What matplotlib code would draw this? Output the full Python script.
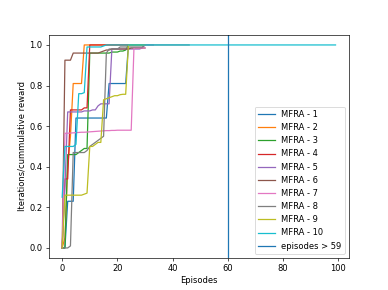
import numpy as np
import matplotlib
matplotlib.use("Agg")
import matplotlib.pyplot as plt

# fraction of iterations / cumulative reward per episode
mfra_1 = [0.0, 0.0, 0.23, 0.23, 0.23, 0.64, 0.64, 0.64, 0.64, 0.64,
          0.64, 0.64, 0.64, 0.64, 0.64, 0.64, 0.64, 0.81, 0.81, 0.81,
          0.81, 0.81, 0.81, 0.81, 1.0, 1.0, 1.0, 1.0, 1.0, 1.0,
          1.0]
mfra_2 = [0.0, 0.05, 0.40, 0.55, 0.81, 0.81, 0.81, 0.81, 1.0, 1.0,
          1.0, 1.0, 1.0, 1.0, 1.0, 1.0, 1.0, 1.0, 1.0, 1.0,
          1.0, 1.0, 1.0, 1.0, 1.0]
mfra_3 = [0.0, 0.0, 0.46, 0.46, 0.46, 0.46, 0.47, 0.48, 0.49, 0.49,
          0.96, 0.96, 0.96, 0.96, 0.96, 0.96, 0.96, 0.96, 0.965, 0.965,
          0.965, 0.97, 0.97, 0.975, 1.0, 1.0, 1.0, 1.0, 1.0, 1.0,
          1.0]
mfra_4 = [0.0, 0.34, 0.34, 0.68, 0.68, 0.68, 0.68, 0.68, 0.69, 0.69,
          1.0, 1.0, 1.0, 1.0, 1.0, 1.0, 1.0, 1.0, 1.0, 1.0,
          1.0, 1.0, 1.0, 1.0, 1.0]
mfra_5 = [0.0, 0.3, 0.67, 0.67, 0.67, 0.67, 0.67, 0.67, 0.675, 0.675,
          0.675, 0.68, 0.68, 0.70, 0.71, 0.71, 0.71, 0.71, 0.98, 0.98,
          0.98, 0.98, 0.98, 0.98, 0.98, 0.98, 0.98, 0.98, 0.98, 0.985,
          1.0, 1.0, 1.0, 1.0]
mfra_6 = [0.0, 0.925, 0.925, 0.925, 0.96, 0.96, 0.96, 0.96, 0.96, 0.96,
          0.96, 0.96, 0.96, 0.96, 0.965, 0.97, 0.975, 0.975, 0.98, 0.98,
          0.98, 0.98, 0.98, 0.98, 0.98, 0.985, 0.985, 0.985, 0.985, 0.985,
          0.985]
mfra_7 = [0.0, 0.565, 0.565, 0.566, 0.567, 0.568, 0.569, 0.57, 0.57, 0.571,
          0.572, 0.573, 0.574, 0.575, 0.576, 0.577, 0.578, 0.578, 0.579, 0.579,
          0.58, 0.58, 0.58, 0.58, 0.58, 0.58, 0.985, 0.985, 0.985, 0.985,
          0.985]
mfra_8 = [0.0, 0.0, 0.0, 0.01, 0.47, 0.47, 0.47, 0.47, 0.47, 0.48,
          0.50, 0.51, 0.52, 0.53, 0.54, 0.55, 0.96, 0.98, 0.98, 0.98,
          0.98, 0.99, 0.99, 0.99, 0.99, 0.99, 0.99, 0.99, 0.99, 0.99,
          1.0, 1.0, 1.0, 1.0, 1.0, 1.0, 1.0, 1.0, 1.0, 1.0,
          1.0, 1.0, 1.0, 1.0, 1.0, 1.0, 1.0]
mfra_9 = [0.0, 0.26, 0.26, 0.26, 0.26, 0.26, 0.26, 0.26, 0.265, 0.27,
          0.50, 0.50, 0.51, 0.52, 0.52, 0.73, 0.735, 0.74, 0.745, 0.75,
          0.75, 0.755, 0.757, 0.757, 1.0, 1.0, 1.0, 1.0, 1.0, 1.0,
          1.0]
mfra_10 = [0.25, 0.50, 0.50, 0.50, 0.50, 0.51, 0.76, 0.76, 0.765, 0.99,
           0.99, 0.99, 0.99, 0.99, 0.99, 0.995, 1.0, 1.0, 1.0, 1.0,
           1.0, 1.0, 1.0, 1.0, 1.0, 1.0, 1.0, 1.0, 1.0, 1.0,
           1.0, 1.0, 1.0, 1.0, 1.0, 1.0, 1.0, 1.0, 1.0, 1.0,
           1.0, 1.0, 1.0, 1.0, 1.0, 1.0, 1.0, 1.0, 1.0, 1.0,
           1.0, 1.0, 1.0, 1.0, 1.0, 1.0, 1.0, 1.0, 1.0, 1.0,
           1.0, 1.0, 1.0, 1.0, 1.0, 1.0, 1.0, 1.0, 1.0, 1.0,
           1.0, 1.0, 1.0, 1.0, 1.0, 1.0, 1.0, 1.0, 1.0, 1.0,
           1.0, 1.0, 1.0, 1.0, 1.0, 1.0, 1.0, 1.0, 1.0, 1.0,
           1.0, 1.0, 1.0, 1.0, 1.0, 1.0, 1.0, 1.0, 1.0, 1.0]

runs = [mfra_1, mfra_2, mfra_3, mfra_4, mfra_5,
        mfra_6, mfra_7, mfra_8, mfra_9, mfra_10]
labels = ["MFRA - " + str(i + 1) for i in range(len(runs))]
threshold = 60

if __name__ == "__main__":
    fig, ax = plt.subplots(figsize=(388 / 60, 290 / 60), dpi=60)
    for run, lab in zip(runs, labels):
        ax.plot(np.arange(len(run)), run, label=lab)
    ax.axvline(threshold, label="episodes > " + str(threshold - 1))
    ax.set_xlabel("Episodes")
    ax.set_ylabel("Iterations/cummulative reward")
    ax.legend(loc="lower right")
    plt.savefig("out.png", dpi=60)
